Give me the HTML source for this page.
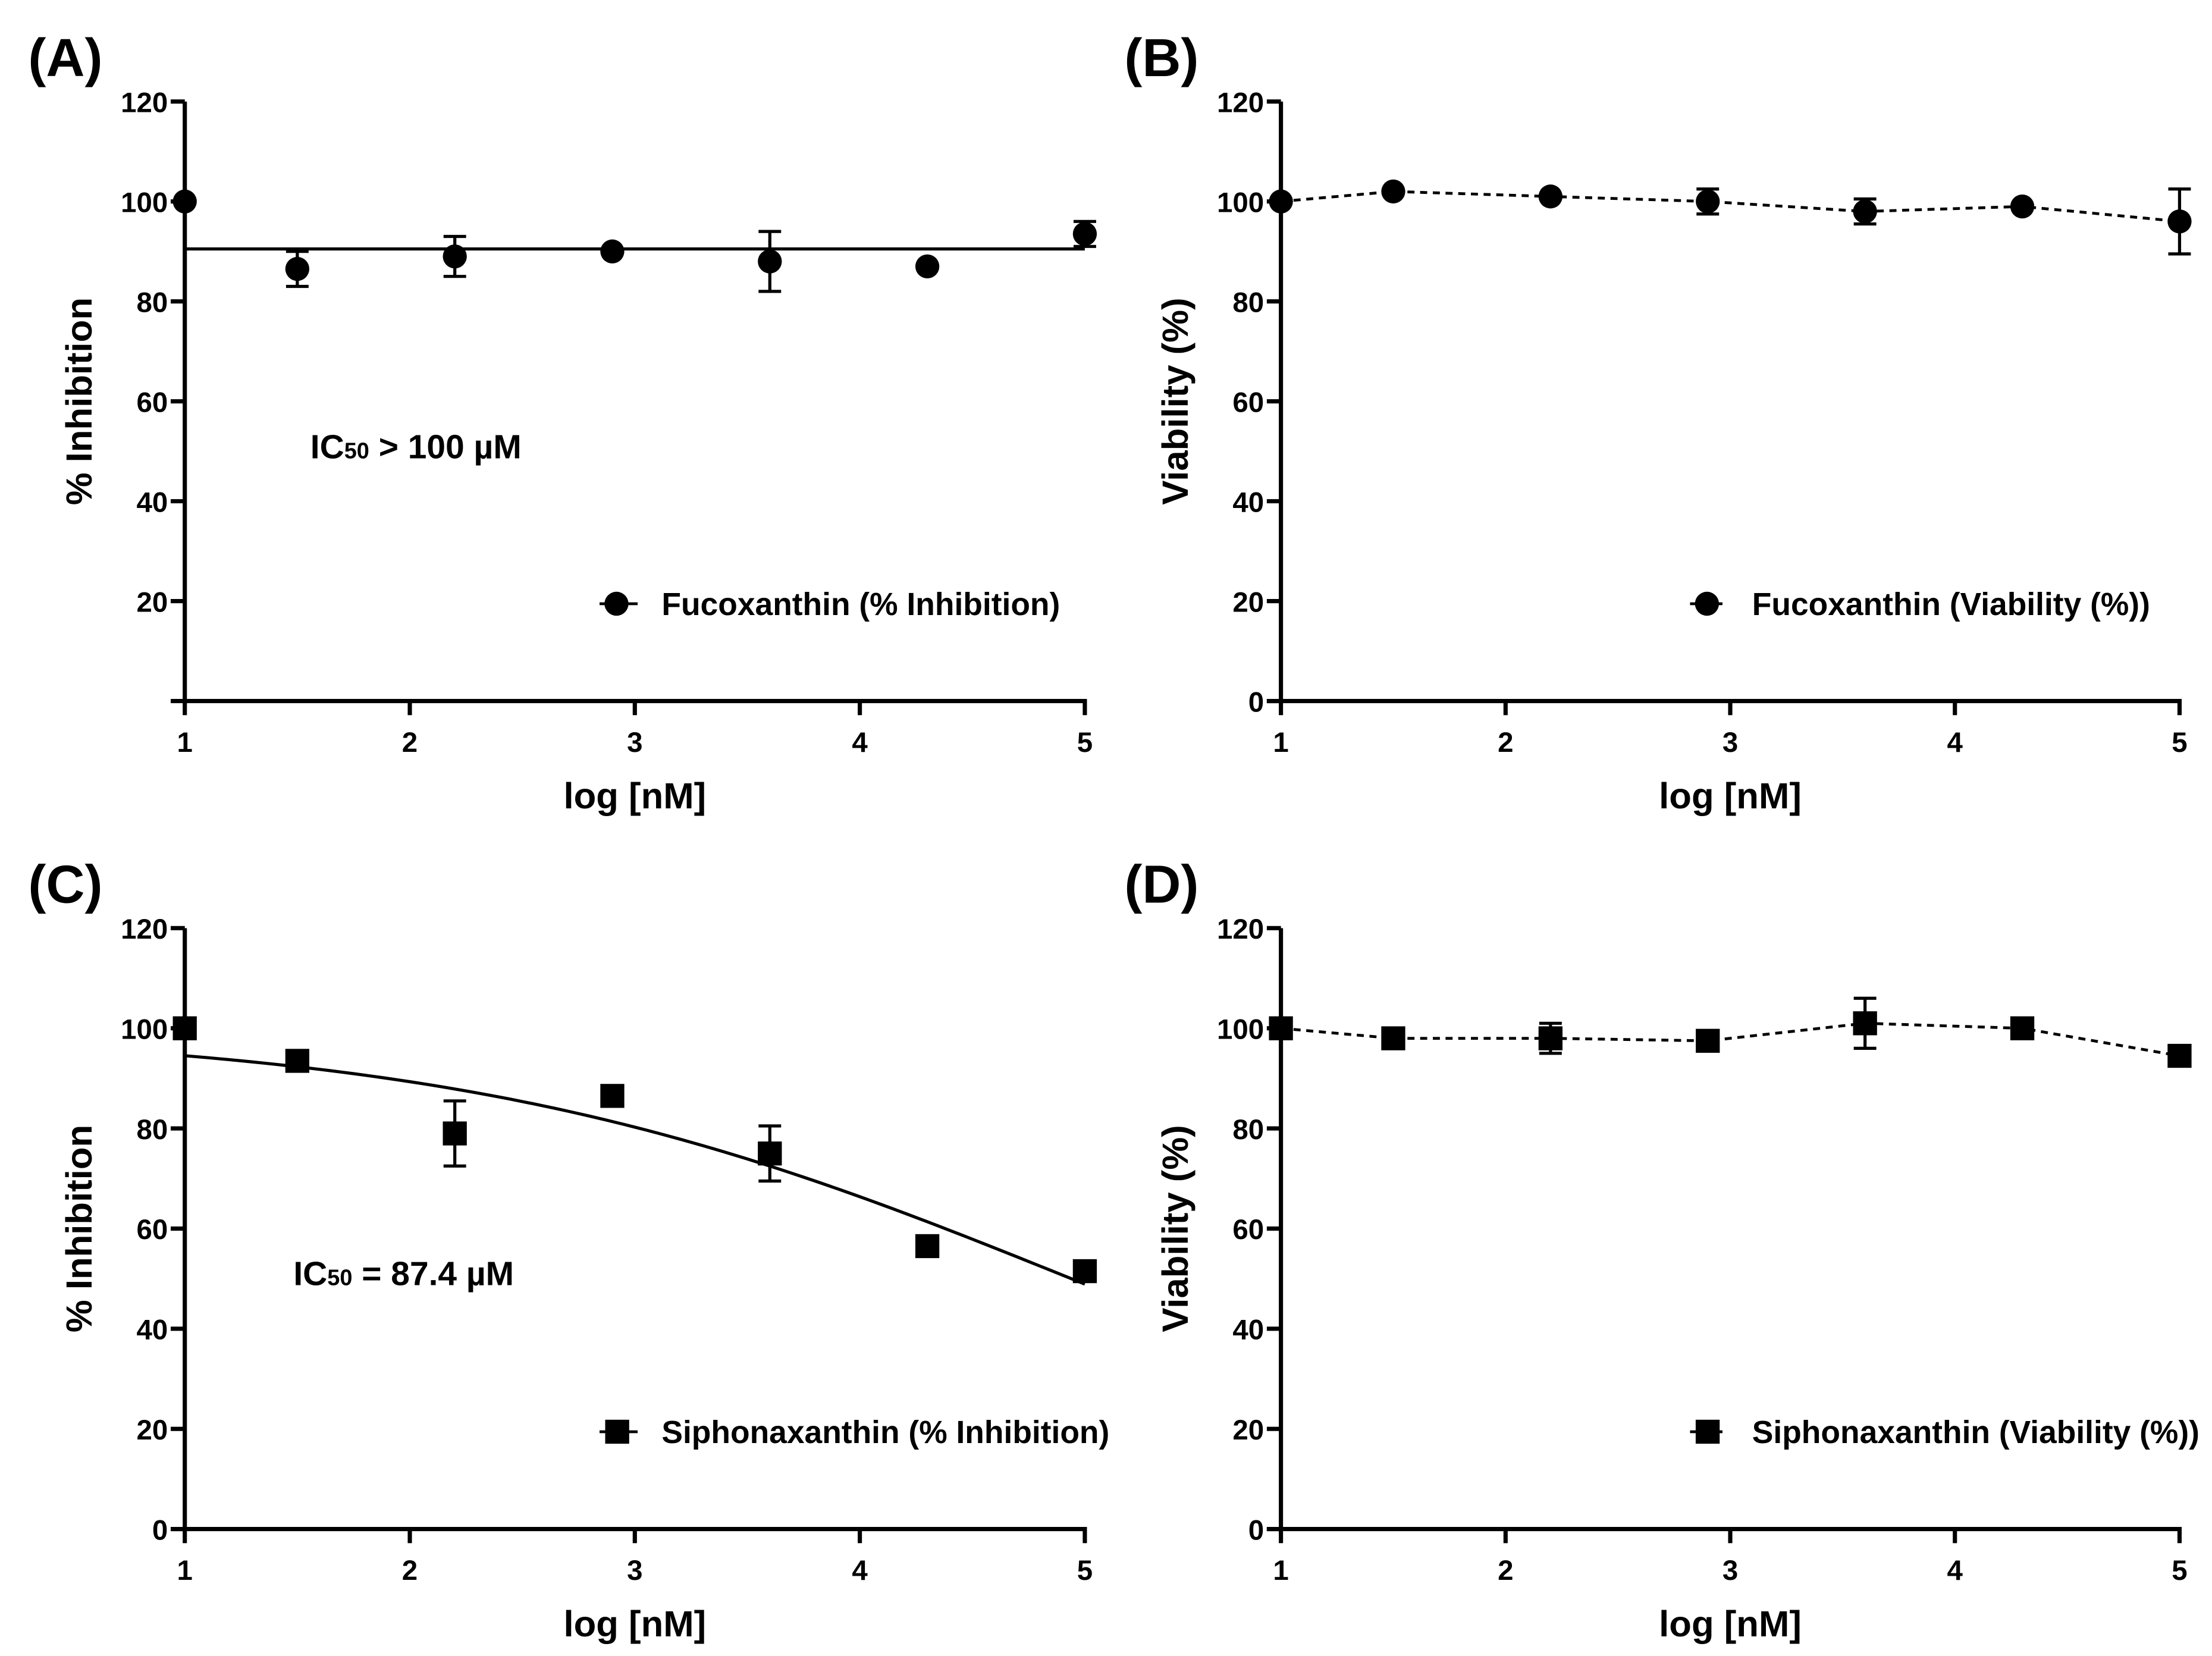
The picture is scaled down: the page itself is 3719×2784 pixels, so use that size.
<!DOCTYPE html>
<html><head><meta charset="utf-8"><style>
html,body{margin:0;padding:0;background:#fff}
svg{display:block}
text{font-family:"Liberation Sans",Arial,sans-serif;font-weight:bold;fill:#000}
</style></head><body>
<svg id="fig" width="3719" height="2784" viewBox="0 0 1568 1174" preserveAspectRatio="none" xmlns="http://www.w3.org/2000/svg"></svg>
<script>
const xVals = [1, 1.5, 2.2, 2.9, 3.6, 4.3, 5];
const xTicks = [1, 2, 3, 4, 5];
const yTicksA = [20, 40, 60, 80, 100, 120];
const yTicksB = [0, 20, 40, 60, 80, 100, 120];
const yA = [100, 86.5, 89, 90, 88, 87, 93.5];
const eA = [0, 3.5, 4, 0, 6, 0, 2.5];
const fitA = [90.5];
const yB = [100, 102, 101, 100, 98, 99, 96];
const eB = [0, 0, 0, 2.5, 2.5, 0, 6.5];
const yC = [100, 93.5, 79, 86.5, 75, 56.5, 51.5];
const eC = [0, 1.5, 6.5, 0, 5.5, 0, 1.5];
const fitC = [4.94, 0.314]; // logIC50, hill slope
const yD = [100, 98, 98, 97.5, 101, 100, 94.5];
const eD = [0, 0, 3, 0, 5, 0, 0];

const NS = "http://www.w3.org/2000/svg";
const svg = document.getElementById('fig');
function mk(tag, attrs, parent, txt){
  const e = document.createElementNS(NS, tag);
  for (const k in attrs) e.setAttribute(k, attrs[k]);
  if (txt !== undefined) e.textContent = txt;
  (parent || svg).appendChild(e);
  return e;
}

function panel(p){
  const g = mk('g', {});
  
  
  const X = v => p.x0 + (v - 1) / 4 * (p.x1 - p.x0);
  const Y = v => p.y0 - v / 120 * (p.y0 - p.y120);
  const lbl = mk('text', {x: p.lx, y: p.y120 - 18, 'font-size': 38}, g, p.label);
  
  
  const ya = mk('line', {x1: p.x0, y1: p.y120, x2: p.x0, y2: p.y0 + 1.5, stroke: '#000', 'stroke-width': 3}, g);
  
  
  const xa = mk('line', {x1: p.x0 - 10, y1: p.y0, x2: p.x1 + 1.5, y2: p.y0, stroke: '#000', 'stroke-width': 3}, g);
  
  
  p.yTicks.forEach(t => {
    mk('line', {x1: p.x0 - 10, y1: Y(t), x2: p.x0, y2: Y(t), stroke: '#000', 'stroke-width': 3}, g);
    const tl = mk('text', {x: p.x0 - 12, y: Y(t) + 7.5, 'font-size': 20, 'text-anchor': 'end'}, g, t);
    
    
  });
  xTicks.forEach(t => {
    mk('line', {x1: X(t), y1: p.y0, x2: X(t), y2: p.y0 + 10, stroke: '#000', 'stroke-width': 3}, g);
    const tl = mk('text', {x: X(t), y: p.y0 + 36, 'font-size': 20, 'text-anchor': 'middle'}, g, t);
    
    
  });
  const xt = mk('text', {x: (p.x0 + p.x1) / 2, y: p.y0 + 76, 'font-size': 26, 'text-anchor': 'middle'}, g, 'log [nM]');
  
  
  const ymid = (p.y0 + p.y120) / 2;
  const yt = mk('text', {x: 0, y: 0, 'font-size': 26, 'text-anchor': 'middle', transform: `translate(${p.x0 - 66},${ymid}) rotate(-90)`}, g, p.ytitle);
  
  
  if (p.fit === 'flat') {
    const fl = mk('line', {x1: X(1), y1: Y(fitA[0]), x2: X(5), y2: Y(fitA[0]), stroke: '#000', 'stroke-width': 2.2}, g);
    
    
  } else if (p.fit === 'curve') {
    let d = '';
    for (let i = 0; i <= 80; i++) {
      const x = 1 + 4 * i / 80;
      const y = 100 / (1 + Math.pow(10, fitC[1] * (x - fitC[0])));
      d += (i ? 'L' : 'M') + X(x).toFixed(2) + ',' + Y(y).toFixed(2);
    }
    const fl = mk('path', {d: d, fill: 'none', stroke: '#000', 'stroke-width': 2.2}, g);
    
    
  } else {
    const pts = xVals.map((x, i) => X(x) + ',' + Y(p.ys[i])).join(' ');
    const cl = mk('polyline', {points: pts, fill: 'none', stroke: '#000', 'stroke-width': 2, 'stroke-dasharray': '5,4'}, g);
    
    
  }
  xVals.forEach((x, i) => {
    const cx = X(x), cy = Y(p.ys[i]), e = p.es[i];
    if (e > 0) {
      const t = Y(p.ys[i] + e), b = Y(p.ys[i] - e);
      const eb = mk('path', {d: `M${cx},${t}L${cx},${b}M${cx-8},${t}L${cx+8},${t}M${cx-8},${b}L${cx+8},${b}`, stroke: '#000', 'stroke-width': 2.2, fill: 'none'}, g);
      
      
    }
    let m;
    if (p.marker === 'circle') m = mk('circle', {cx: cx, cy: cy, r: 8.5, fill: '#000'}, g);
    else m = mk('rect', {x: cx - 8.5, y: cy - 8.5, width: 17, height: 17, fill: '#000'}, g);
    
    
  });
  const lg = mk('g', {}, g);
  
  
  mk('line', {x1: p.legX, y1: p.legY, x2: p.legX + 27, y2: p.legY, stroke: '#000', 'stroke-width': 2, 'stroke-dasharray': p.fit === 'dash' ? '5,4' : 'none'}, lg);
  if (p.marker === 'circle') mk('circle', {cx: p.legX + 12, cy: p.legY, r: 8.5, fill: '#000'}, lg);
  else mk('rect', {x: p.legX + 4, y: p.legY - 8.5, width: 17, height: 17, fill: '#000'}, lg);
  mk('text', {x: p.legX + 44, y: p.legY + 8, 'font-size': 22.5}, lg, p.legText);
  if (p.ic) {
    const ic = mk('text', {x: p.ic[0], y: p.ic[1], 'font-size': 24}, g);
    
    
    mk('tspan', {}, ic, 'IC');
    mk('tspan', {'font-size': 16}, ic, '50');
    mk('tspan', {}, ic, p.ic[2]);
  }
}

panel({name: 'panel-a', label: '(A)', lx: 20, x0: 131, x1: 769, y0: 497, y120: 72, yTicks: yTicksA, ys: yA, es: eA, fit: 'flat', marker: 'circle', ytitle: '% Inhibition', legX: 425, legY: 428, legText: 'Fucoxanthin (% Inhibition)', ic: [220, 325, ' > 100 µM']});
panel({name: 'panel-b', label: '(B)', lx: 797, x0: 908, x1: 1545, y0: 497, y120: 72, yTicks: yTicksB, ys: yB, es: eB, fit: 'dash', marker: 'circle', ytitle: 'Viability (%)', legX: 1198, legY: 428, legText: 'Fucoxanthin (Viability (%))'});
panel({name: 'panel-c', label: '(C)', lx: 20, x0: 131, x1: 769, y0: 1084, y120: 658, yTicks: yTicksB, ys: yC, es: eC, fit: 'curve', marker: 'square', ytitle: '% Inhibition', legX: 425, legY: 1015, legText: 'Siphonaxanthin (% Inhibition)', ic: [208, 911, ' = 87.4 µM']});
panel({name: 'panel-d', label: '(D)', lx: 797, x0: 908, x1: 1545, y0: 1084, y120: 658, yTicks: yTicksB, ys: yD, es: eD, fit: 'dash', marker: 'square', ytitle: 'Viability (%)', legX: 1198, legY: 1015, legText: 'Siphonaxanthin (Viability (%))'});
</script>
</body></html>
